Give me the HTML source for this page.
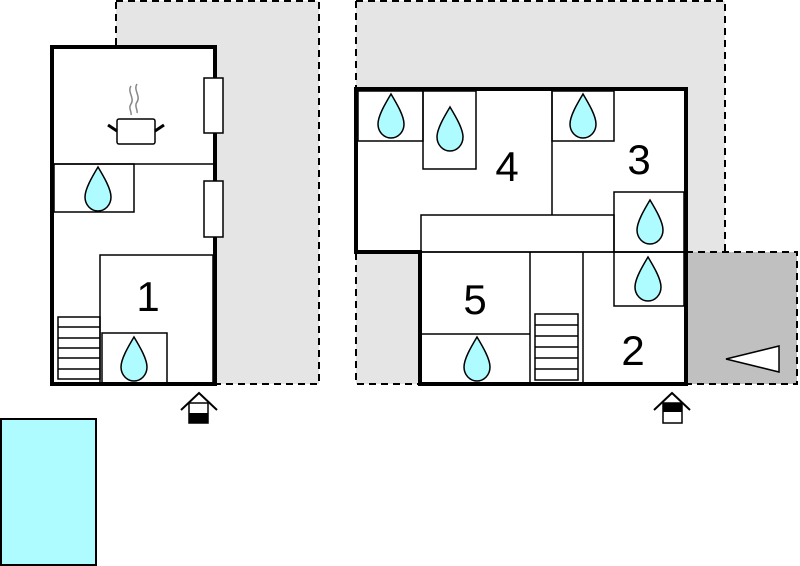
<!DOCTYPE html>
<html><head><style>html,body{margin:0;padding:0;background:#fff;}svg{display:block}</style></head>
<body>
<svg width="800" height="566" viewBox="0 0 800 566" xmlns="http://www.w3.org/2000/svg">
<defs>
<path id="d" d="M0,-22 C-6,-12 -13,0 -13,8 C-13,16 -7,22 0,22 C7,22 13,16 13,8 C13,0 6,-12 0,-22 Z" fill="#aefcff" stroke="#000" stroke-width="1.5"/>
</defs>
<rect x="116" y="1" width="203" height="383" fill="#e5e5e5" stroke="#000" stroke-width="2" stroke-dasharray="7,5"/>
<rect x="356" y="1" width="369" height="383" fill="#e5e5e5"/>
<path d="M356,1 H725 V252 M356,1 V384 H420" fill="none" stroke="#000" stroke-width="2" stroke-dasharray="7,5"/>
<rect x="686" y="252" width="111" height="132" fill="#c0c0c0" stroke="#000" stroke-width="2" stroke-dasharray="7,5"/>
<polygon points="726,359 779,346 779,372" fill="#fff" stroke="#000" stroke-width="1.5"/>
<rect x="52" y="47" width="163" height="337" fill="#fff" stroke="#000" stroke-width="4"/>
<g fill="none" stroke="#000" stroke-width="1.5">
<line x1="54" y1="164" x2="213" y2="164"/>
<rect x="54" y="164" width="80" height="48"/>
<rect x="100" y="255" width="113" height="129"/>
<rect x="102" y="333" width="65" height="51"/>
<rect x="58" y="317" width="42" height="62"/>
<path d="M58,327H100M58,338H100M58,348H100M58,358H100M58,369H100"/>
</g>
<rect x="204" y="78" width="19" height="55" fill="#fff" stroke="#000" stroke-width="1.5"/>
<rect x="204" y="181" width="19" height="56" fill="#fff" stroke="#000" stroke-width="1.5"/>
<rect x="117" y="119" width="38" height="25" rx="2" fill="#fff" stroke="#000" stroke-width="1.5"/>
<path d="M108,125 L117,131 M164,125 L155,131" stroke="#000" stroke-width="3"/>
<path d="M131,86 C127,92 135,98 131,104 C128,108 132,112 131,115 M137,84 C133,90 141,96 137,102 C134,106 138,110 137,113" fill="none" stroke="#888" stroke-width="1.5"/>
<use href="#d" x="98" y="189"/>
<use href="#d" x="134" y="359"/>
<text x="148" y="311" font-family="Liberation Sans, sans-serif" font-size="42" text-anchor="middle">1</text>
<path d="M356,89 H686 V384 H420 V252 H356 Z" fill="#fff" stroke="#000" stroke-width="4"/>
<g fill="none" stroke="#000" stroke-width="1.5">
<rect x="358" y="91" width="65" height="50"/>
<rect x="423" y="91" width="53" height="78"/>
<line x1="552" y1="91" x2="552" y2="215"/>
<rect x="552" y="91" width="62" height="50"/>
<rect x="614" y="192" width="70" height="60"/>
<rect x="614" y="252" width="70" height="54"/>
<rect x="421" y="215" width="193" height="37"/>
<line x1="420" y1="252" x2="686" y2="252"/>
<line x1="530" y1="252" x2="530" y2="384"/>
<line x1="583" y1="252" x2="583" y2="384"/>
<line x1="422" y1="334" x2="530" y2="334"/>
<rect x="535" y="314" width="43" height="66"/>
<path d="M535,325H578M535,336H578M535,347H578M535,358H578M535,369H578"/>
</g>
<use href="#d" x="391" y="116"/>
<use href="#d" x="450" y="129"/>
<use href="#d" x="583" y="116"/>
<use href="#d" x="650" y="222"/>
<use href="#d" x="648" y="279"/>
<use href="#d" x="477" y="359"/>
<g font-family="Liberation Sans, sans-serif" font-size="42" text-anchor="middle">
<text x="507" y="181">4</text>
<text x="639" y="174">3</text>
<text x="475" y="314">5</text>
<text x="633" y="365">2</text>
</g>
<path d="M181,410 L199,393 L217,410" fill="none" stroke="#000" stroke-width="2"/>
<rect x="189" y="403" width="19" height="20" fill="#fff" stroke="#000" stroke-width="1.5"/>
<rect x="189" y="413" width="19" height="10" fill="#000"/>
<path d="M654,410 L672,393 L690,410" fill="none" stroke="#000" stroke-width="2"/>
<rect x="663" y="403" width="19" height="20" fill="#fff" stroke="#000" stroke-width="1.5"/>
<rect x="663" y="403" width="19" height="9" fill="#000"/>
<rect x="1" y="419" width="95" height="146" fill="#aefcff" stroke="#000" stroke-width="2"/>
</svg>
</body></html>
